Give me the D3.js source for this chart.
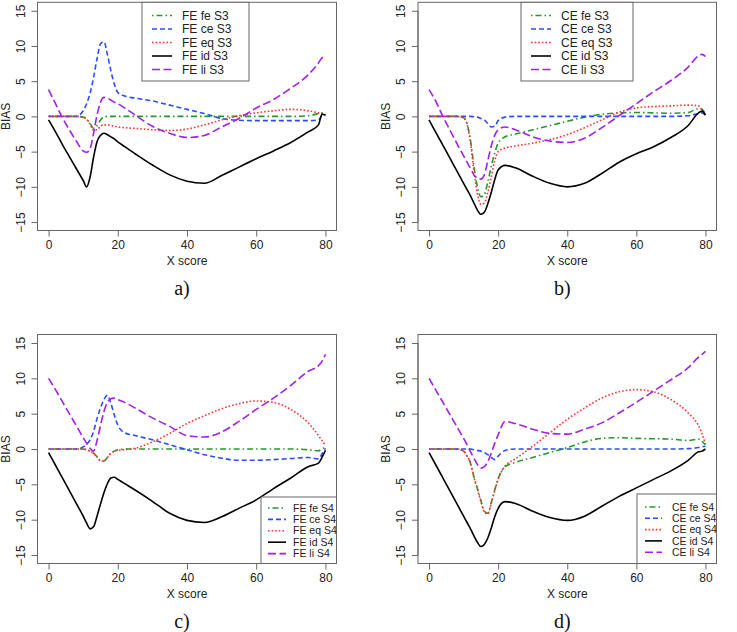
<!DOCTYPE html>
<html lang="en">
<head>
<meta charset="UTF-8" />
<title>BIAS</title>
<style>
  body { margin: 0; background: #fff; }
  svg text { font-family: "Liberation Sans", Arial, sans-serif; fill: #222; }
  svg text.caption { font-family: "Liberation Serif", "Times New Roman", serif; fill: #111; }
  .axis path.domain { display: none; }
  .axis line { stroke: #666; }
</style>
</head>
<body>
<div class="chart"></div>
<script src="https://d3js.org/d3.v7.min.js"></script>
<script>
// x score grid shared by all curves
const xScores = [0, 2, 4, 6, 8, 10, 11, 12, 13, 14, 15, 16, 17, 18, 19, 20, 22, 25, 30, 35, 40, 45, 50, 55, 60, 65, 70, 75, 78, 79, 80]
const xTicks = [0, 20, 40, 60, 80]
const yTicks = [-15, -10, -5, 0, 5, 10, 15]
const methods = ['fe', 'ce', 'eq', 'id', 'li']

// a) FE, S3
const aFe = [0, 0, 0, 0, 0, -0.1, -0.4, -1.0, -1.7, -1.3, -0.5, -0.1, 0, 0, 0, 0, 0, 0, 0, 0, 0, 0, 0, 0, 0, 0, 0, 0.1, 0.4, 0.5, 0.2]
const aCe = [0, 0, 0, 0, 0, 0.8, 1.8, 3.3, 5.5, 8.2, 10.3, 10.6, 8.8, 6.5, 4.6, 3.4, 2.9, 2.6, 2.2, 1.6, 1.0, 0.4, -0.3, -0.55, -0.6, -0.6, -0.6, -0.6, -0.5, 0.1, 0.1]
const aEq = [0, 0, 0, 0, 0, -0.1, -0.4, -1.1, -2.0, -1.9, -1.4, -1.2, -1.2, -1.3, -1.4, -1.5, -1.6, -1.7, -1.9, -2.0, -1.8, -1.2, -0.5, 0.1, 0.5, 0.8, 1.0, 0.8, 0.5, 0.4, 0.3]
const aId = [-0.5, -2.2, -4.0, -5.7, -7.4, -9.1, -10.0, -8.6, -5.8, -3.6, -2.7, -2.4, -2.6, -2.9, -3.2, -3.6, -4.3, -5.3, -6.9, -8.3, -9.2, -9.5, -8.4, -7.2, -6.0, -4.9, -3.7, -2.2, -1.2, 0.3, 0.2]
const aLi = [3.8, 1.8, -0.2, -1.9, -3.5, -4.9, -5.1, -4.6, -2.4, 0.2, 2.0, 2.7, 2.6, 2.3, 2.0, 1.8, 1.2, 0.2, -1.4, -2.4, -3.0, -2.7, -1.5, -0.3, 1.2, 2.4, 4.0, 5.9, 7.6, 8.3, 8.5]

// b) CE, S3
const bFe = [0, 0, 0, 0, 0, -0.2, -1.0, -3.4, -7.1, -10.0, -11.4, -11.1, -9.3, -7.1, -5.2, -3.8, -2.9, -2.5, -1.9, -1.3, -0.7, -0.1, 0.3, 0.5, 0.55, 0.5, 0.45, 0.55, 1.1, 1.0, 0.3]
const bCe = [0, 0, 0, 0, 0, 0, 0, 0, -0.05, -0.1, -0.3, -0.5, -1.0, -1.5, -1.4, -0.6, -0.1, 0, 0, 0, 0, 0, 0, 0, 0, 0, 0, 0.1, 0.4, 0.5, 0.2]
const bEq = [0, 0, 0, 0, 0, -0.2, -1.1, -3.8, -7.8, -11.0, -12.5, -12.3, -10.8, -8.6, -6.3, -5.0, -4.5, -4.2, -3.8, -3.3, -2.6, -1.6, -0.5, 0.6, 1.2, 1.4, 1.5, 1.6, 1.5, 0.9, 0.2]
const bId = [-0.5, -2.3, -4.1, -5.9, -7.7, -9.5, -10.4, -11.3, -12.3, -13.3, -13.9, -13.6, -12.4, -10.8, -9.0, -7.6, -6.95, -7.3, -8.5, -9.5, -10.0, -9.5, -8.1, -6.5, -5.3, -4.3, -3.0, -1.3, 0.5, 0.75, 0.2]
const bLi = [3.8, 2.1, 0.0, -1.9, -3.8, -5.6, -6.5, -7.4, -8.3, -8.8, -8.9, -8.3, -6.3, -4.2, -2.7, -1.9, -1.5, -1.9, -2.9, -3.5, -3.7, -3.1, -1.6, 0.1, 1.8, 3.5, 5.1, 7.0, 8.6, 8.8, 8.5]

// c) FE, S4
const cFe = [0, 0, 0, 0, 0, 0, -0.1, -0.3, -0.6, -1.1, -1.6, -1.7, -1.2, -0.6, -0.3, -0.1, 0, 0, 0, 0, 0, 0, 0, 0, 0, 0, 0, -0.1, -0.25, 0, 0.3]
const cCe = [0, 0, 0, 0, 0, 0.3, 0.7, 1.3, 2.5, 4.3, 5.8, 7.0, 7.6, 6.5, 4.8, 3.4, 2.3, 1.9, 1.3, 0.6, -0.1, -0.8, -1.3, -1.6, -1.6, -1.5, -1.35, -1.2, -1.4, -0.7, 0.1]
const cEq = [0, 0, 0, 0, 0, 0, -0.1, -0.3, -0.6, -1.1, -1.7, -1.7, -1.2, -0.6, -0.3, -0.2, -0.1, 0.1, 1.0, 2.2, 3.6, 4.7, 5.7, 6.4, 6.8, 6.6, 5.6, 3.7, 1.9, 1.2, 0.5]
const cId = [-0.5, -2.3, -4.1, -5.9, -7.7, -9.5, -10.5, -11.3, -11.0, -9.5, -7.8, -6.2, -4.9, -4.1, -4.0, -4.3, -4.9, -5.8, -7.4, -9.1, -10.1, -10.4, -9.6, -8.4, -7.2, -5.6, -4.1, -2.5, -2.0, -1.2, -0.2]
const cLi = [10.0, 8.4, 6.7, 5.0, 3.3, 1.6, 0.8, 0.1, -0.3, 1.2, 3.3, 5.3, 6.6, 7.1, 7.2, 7.0, 6.6, 5.8, 4.4, 3.2, 1.9, 1.7, 2.4, 3.9, 5.6, 7.2, 9.0, 11.0, 11.8, 12.4, 13.4]

// d) CE, S4
const dFe = [0, 0, 0, 0, 0, -0.3, -1.0, -2.0, -4.0, -5.6, -7.3, -8.8, -9.1, -7.6, -5.8, -4.2, -2.5, -1.9, -1.2, -0.5, 0.2, 1.0, 1.5, 1.6, 1.5, 1.45, 1.4, 1.2, 1.4, 1.1, 0.6]
const dCe = [0, 0, 0, 0, 0, 0, 0, 0, -0.1, -0.2, -0.3, -0.5, -0.8, -1.2, -1.5, -1.0, -0.2, 0, 0, 0, 0, 0, 0, 0, 0, 0, 0, 0.05, 0.2, 0.3, 0.4]
const dEq = [0, 0, 0, 0, 0, -0.3, -1.0, -2.0, -4.0, -5.7, -7.4, -8.9, -9.2, -7.7, -5.9, -4.3, -2.4, -1.4, 0.4, 2.3, 4.2, 5.8, 7.2, 8.1, 8.4, 8.1, 7.0, 5.1, 3.3, 2.2, 0.7]
const dId = [-0.5, -2.3, -4.1, -5.9, -7.7, -9.5, -10.4, -11.3, -12.3, -13.2, -13.8, -13.5, -12.6, -11.2, -9.6, -8.4, -7.45, -7.7, -8.8, -9.7, -10.1, -9.5, -8.1, -6.7, -5.5, -4.3, -3.1, -1.6, -0.4, -0.3, 0]
const dLi = [10.0, 8.3, 6.6, 4.9, 3.2, 1.5, 0.6, -0.4, -1.3, -2.2, -2.7, -2.5, -1.8, -0.6, 0.8, 2.0, 3.9, 3.6, 2.8, 2.2, 2.1, 2.8, 3.7, 5.1, 6.6, 8.2, 9.8, 11.5, 13.0, 13.4, 13.8]

const styles = {
  fe: { color: '#22992a', dash: '1.5,3,6,3' },
  ce: { color: '#2b4cff', dash: '5,3' },
  eq: { color: '#ff3333', dash: '1.6,2' },
  id: { color: '#000000', dash: null },
  li: { color: '#a020f0', dash: '8,3.5' }
}

const panels = [
  { tag: 'a)', prefix: 'FE', suffix: 'S3', series: [aFe, aCe, aEq, aId, aLi],
    box: [37.5, 2.3, 336.5, 230.5],
    legend: { x0: 142, y0: 2.3, x1: 249, y1: 81, line: [152, 172], tx: 182, ry: 15.5, step: 13.5, fs: 12 } },
  { tag: 'b)', prefix: 'CE', suffix: 'S3', series: [bFe, bCe, bEq, bId, bLi],
    box: [418, 2.3, 716.5, 230.5],
    legend: { x0: 521, y0: 2.3, x1: 633, y1: 81, line: [531, 551], tx: 561, ry: 15.5, step: 13.5, fs: 12 } },
  { tag: 'c)', prefix: 'FE', suffix: 'S4', series: [cFe, cCe, cEq, cId, cLi],
    box: [37.5, 334.5, 336.5, 563.5],
    legend: { x0: 261, y0: 497, x1: 336.5, y1: 563.5, line: [268, 286], tx: 293, ry: 508, step: 11.4, fs: 10.5 } },
  { tag: 'd)', prefix: 'CE', suffix: 'S4', series: [dFe, dCe, dEq, dId, dLi],
    box: [418, 334.5, 716.5, 563.5],
    legend: { x0: 637, y0: 494, x1: 716.5, y1: 563.5, line: [645, 662], tx: 672, ry: 507, step: 11.3, fs: 10.5 } }
]

const svg = d3.select('.chart')
  .append('svg')
  .attr('width', 737)
  .attr('height', 632)

const drawPanel = (p) => {
  const [left, top, right, bottom] = p.box

  // R style: 4% padding around the data range
  const xScale = d3.scaleLinear().domain([-3.2, 83.2]).range([left, right])
  const yScale = d3.scaleLinear().domain([-16.2, 16.2]).range([bottom, top])

  const g = svg.append('g')

  const line = d3.line()
    .x((d) => xScale(d[0]))
    .y((d) => yScale(d[1]))
    .curve(d3.curveMonotoneX)

  // curves
  p.series.forEach((vals, i) => {
    const st = styles[methods[i]]
    g.append('path')
      .datum(xScores.map((x, j) => [x, vals[j]]))
      .attr('d', line)
      .attr('fill', 'none')
      .attr('stroke', st.color)
      .attr('stroke-width', 1.6)
      .attr('stroke-dasharray', st.dash)
  })

  // box
  g.append('rect')
    .attr('x', left).attr('y', top)
    .attr('width', right - left).attr('height', bottom - top)
    .attr('fill', 'none').attr('stroke', '#666').attr('stroke-width', 1)

  // axes
  const xAxis = d3.axisBottom(xScale).tickValues(xTicks).tickSize(6).tickPadding(4)
  const xg = g.append('g').attr('class', 'axis')
    .attr('transform', `translate(0, ${bottom})`)
    .call(xAxis)
  xg.append('line')
    .attr('x1', xScale(0)).attr('x2', xScale(80))
    .attr('stroke', '#666')
  xg.selectAll('text').style('font-size', '12px').attr('fill', '#222')

  const yAxis = d3.axisLeft(yScale).tickValues(yTicks).tickSize(6).tickPadding(3)
  const yg = g.append('g').attr('class', 'axis')
    .attr('transform', `translate(${left}, 0)`)
    .call(yAxis)
  yg.append('line')
    .attr('y1', yScale(-15)).attr('y2', yScale(15))
    .attr('stroke', '#666')
  // rotated tick labels like R (las = 0)
  yg.selectAll('.tick text')
    .attr('x', 0).attr('dy', null)
    .attr('text-anchor', 'middle')
    .attr('transform', 'translate(-13, 0) rotate(-90)')
    .style('font-size', '12px').attr('fill', '#222')

  // axis titles
  g.append('text')
    .attr('x', (xScale(0) + xScale(80)) / 2).attr('y', bottom + 34)
    .attr('text-anchor', 'middle').style('font-size', '12px')
    .text('X score')
  g.append('text')
    .attr('transform', `translate(${left - 28}, ${(top + bottom) / 2}) rotate(-90)`)
    .attr('text-anchor', 'middle').style('font-size', '12px')
    .text('BIAS')

  // caption
  g.append('text')
    .attr('class', 'caption')
    .attr('x', (left + right) / 2 - 5).attr('y', bottom + 64)
    .attr('text-anchor', 'middle').style('font-size', '20px')
    .text(p.tag)

  // legend
  const lg = p.legend
  g.append('rect')
    .attr('x', lg.x0).attr('y', lg.y0)
    .attr('width', lg.x1 - lg.x0).attr('height', lg.y1 - lg.y0)
    .attr('fill', '#fff').attr('stroke', '#666').attr('stroke-width', 1)
  methods.forEach((m, i) => {
    const y = lg.ry + i * lg.step
    g.append('line')
      .attr('x1', lg.line[0]).attr('x2', lg.line[1])
      .attr('y1', y).attr('y2', y)
      .attr('stroke', styles[m].color)
      .attr('stroke-width', 1.6)
      .attr('stroke-dasharray', styles[m].dash)
    g.append('text')
      .attr('x', lg.tx).attr('y', y)
      .attr('dy', '0.35em')
      .style('font-size', `${lg.fs}px`)
      .text(`${p.prefix} ${m} ${p.suffix}`)
  })
}

panels.forEach(drawPanel)
</script>
</body>
</html>
